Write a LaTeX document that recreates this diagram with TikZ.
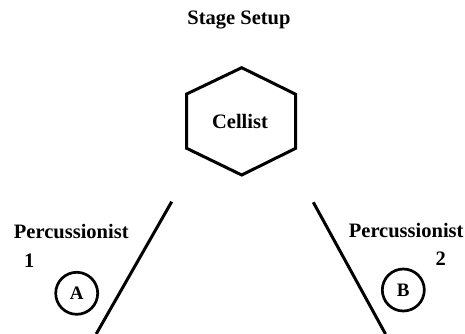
\documentclass[tikz,border=0pt]{standalone}
\usepackage{fontspec}
\setmainfont{Liberation Serif}
\begin{document}
\begin{tikzpicture}[x=1pt,y=-1pt,
  lbl/.style={font=\fontsize{20.5}{22}\selectfont\bfseries, inner sep=0pt},
  seat/.style={circle, draw, line width=2.7pt, minimum size=42pt, inner sep=0pt, font=\fontsize{19}{20}\selectfont\bfseries},
  wall/.style={line width=3pt},
]
\useasboundingbox (0,0) rectangle (465,334);
% title
\node[lbl] (title) at (239,20) {Stage Setup};
% hexagon
\coordinate (h1) at (241.7,67.7);
\coordinate (h2) at (295.7,94.3);
\coordinate (h3) at (295.7,148.3);
\coordinate (h4) at (241.7,175);
\coordinate (h5) at (186.7,148.3);
\coordinate (h6) at (186.7,94);
\draw[line width=3pt, line join=miter] (h1) -- (h2) -- (h3) -- (h4) -- (h5) -- (h6) -- cycle;
\node[lbl] (cellist) at (240,121.5) {Cellist};
% walls
\coordinate (l1) at (171.7,201.7);
\coordinate (l2) at (96.2,334);
\coordinate (r1) at (313.3,202.3);
\coordinate (r2) at (385.5,334);
\draw[wall] (l1) -- (l2);
\draw[wall] (r1) -- (r2);
% labels
\node[lbl] (p1) at (71.3,232) {Percussionist};
\node[lbl] (n1) at (29.3,260.5) {1};
\node[lbl] (p2) at (406.2,230.5) {Percussionist};
\node[lbl] (n2) at (440.7,259) {2};
% seats
\node[seat] (a) at (76.7,293.3) {A};
\node[seat] (b) at (403.3,290) {B};
\end{tikzpicture}
\end{document}
